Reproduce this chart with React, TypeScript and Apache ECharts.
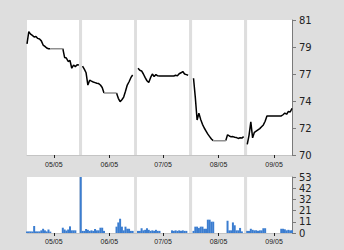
import React, { useEffect, useRef } from 'react';
import * as echarts from 'echarts';

// first trading day shown; each entry below is one calendar day after it
const startDate = '2015-04-20';
const endDate = '2015-09-15';

const priceValues: (number | null)[] = [
  // 04/20 - 05/19
  79.05, 80.05, 79.85, 79.75, 79.62, 79.66, 79.5, 79.45, 79.3, 78.96,
  78.85, 78.72, 78.66, 78.66, 78.66, 78.66, 78.66, 78.66, 78.66, 78.66,
  78.66, 77.95, 77.9, 77.62, 77.7, 77.07, 77.33, 77.2, 77.35, 77.33,
  null,
  // 05/21 - 06/18
  77.25, 77.0, 76.7, 75.7, 76.1, 76.02, 75.95, 75.9, 75.85, 75.82,
  75.7, 75.5, 75.05, 75.05, 75.05, 75.05, 75.05, 75.05, 75.05, 75.05,
  74.62, 74.35, 74.5, 74.72, 75.2, 75.7, 75.97, 76.3, 76.52,
  null, null,
  // 06/21 - 07/19
  77.07, 76.9, 76.85, 76.6, 76.3, 76.05, 75.9, 76.3, 76.6, 76.4,
  76.55, 76.45, 76.44, 76.44, 76.44, 76.44, 76.44, 76.44, 76.44, 76.44,
  76.44, 76.5, 76.45, 76.62, 76.7, 76.8, 76.6, 76.55, 76.5,
  null, null,
  // 07/22 - 08/19
  76.25, 74.7, 72.85, 73.4, 72.9, 72.5, 72.2, 71.95, 71.7, 71.5,
  71.3, 71.17, 71.17, 71.17, 71.17, 71.17, 71.17, 71.17, 71.17, 71.65,
  71.55, 71.48, 71.5, 71.45, 71.42, 71.35, 71.4, 71.38, 71.5,
  null,
  // 08/21 - 09/15
  70.87, 71.6, 72.7, 71.4, 71.85, 71.95, 72.05, 72.15, 72.3, 72.45,
  72.75, 73.18, 73.18, 73.18, 73.18, 73.18, 73.18, 73.18, 73.18, 73.18,
  73.28, 73.42, 73.32, 73.55, 73.5, 73.8,
];

const volumeValues: (number | null)[] = [
  1.5, 1.5, 1.5, 1.5, 6.6, 1.5, 1.5, 1.5, 2.5, 4,
  2.5, 1.5, 3.3, 1.3, null, null, null, null, null, null,
  5, 3.3, 2.3, 3.3, 6.3, 2.5, 2.5, 2.5, null, null,
  53,
  2, 2, 3.8, 3, 2, 2.5, 2, 3.8, 2.5, 2.5,
  5, 5, 2, null, null, null, null, null, null, 6,
  10, 13.5, 6, 2.5, 6, 4, 4, 2, 2,
  null, null,
  2, 2, 4.5, 2.5, 3, 4.5, 3, 2, 2.5, 2,
  3, 2, 2, null, null, null, null, null, null, 2.5,
  2, 2.5, 2, 2.5, 2, 2.5, 2, 2, null,
  null, null,
  2, 6, 6, 4.7, 6, 6, 4, 4, 12.6, 12.6,
  10.7, 10.7, null, null, null, null, null, null, null, 11.6,
  2.5, 2.5, 10, 7.3, 2.5, 2.5, 4.8, 1.5, null,
  null,
  2, 2, 4, 3, 2.5, 2.5, 2, 2.5, 2.5, 4.5,
  4.5, null, null, null, null, null, null, null, null, 4,
  4, 3.5, 2.5, 3, 2.5, 2.5,
];

// periods with no trades (price line drawn grey), as day offsets
const flatRanges: [number, number][] = [[13, 20], [43, 50], [104, 111]];

// breaks between the monthly panels
const gapRanges: [string, string][] = [
  ['2015-05-19 01:00', '2015-05-20 18:00'],
  ['2015-06-18 19:00', '2015-06-20 10:00'],
  ['2015-07-19 12:00', '2015-07-21 05:00'],
  ['2015-08-19 05:00', '2015-08-20 22:00'],
];

const xTickDates = ['2015-05-05', '2015-06-05', '2015-07-05', '2015-08-05', '2015-09-05'];
const priceTicks = [70, 72.2, 74.4, 76.6, 78.8, 81];
const volumeTicks = [0, 10.6, 21.2, 31.8, 42.4, 53];

function ts(s: string): number {
  const [d, t] = s.split(' ');
  const [y, m, dd] = d.split('-').map(Number);
  const [hh, mm] = (t || '0:0').split(':').map(Number);
  return new Date(y, m - 1, dd, hh, mm).getTime();
}
function dayTs(i: number): number {
  const [y, m, d] = startDate.split('-').map(Number);
  return new Date(y, m - 1, d + i).getTime();
}
function fmt(v: number): string {
  const d = new Date(v);
  const p = (n: number) => (n < 10 ? '0' : '') + n;
  return p(d.getMonth() + 1) + '/' + p(d.getDate());
}

const BG = '#dedede';

export default function App() {
  const ref = useRef<HTMLDivElement>(null);
  useEffect(() => {
    document.body.style.margin = '0';
    if (!ref.current) return;
    const chart = echarts.init(ref.current, undefined, { renderer: 'svg' });
    const insideFlat = (i: number) => flatRanges.some(([a, b]) => i > a && i < b);
    const onFlat = (i: number) => flatRanges.some(([a, b]) => i >= a && i <= b);
    const priceData = priceValues.map((v, i) => [dayTs(i), v == null || insideFlat(i) ? '-' : v]);
    const flatData = priceValues.map((v, i) => [dayTs(i), onFlat(i) && v != null ? v : '-']);
    const volData = volumeValues
      .map((v, i) => [dayTs(i), v])
      .filter((p) => p[1] != null);
    const xTicks = xTickDates.map(ts);
    const gapArea = {
      silent: true,
      itemStyle: { color: BG },
      data: gapRanges.map(([a, b]) => [{ xAxis: ts(a) }, { xAxis: ts(b) }]),
    };
    const xAxisFor = (i: number) => ({
      type: 'value',
      gridIndex: i,
      min: ts(startDate),
      max: ts(endDate),
      axisLine: { show: true, lineStyle: { color: '#c4c4c4', width: 1 } },
      axisTick: { show: true, customValues: xTicks, length: 3, lineStyle: { color: '#222' } },
      axisLabel: {
        customValues: xTicks,
        formatter: (v: number) => fmt(v),
        fontSize: 7,
        fontFamily: 'Liberation Sans',
        color: '#222',
        margin: i === 0 ? 6 : 5,
      },
      splitLine: { show: false },
    });
    const yAxisFor = (i: number, min: number, max: number, ticks: number[]) => ({
      type: 'value',
      gridIndex: i,
      position: 'right',
      min,
      max,
      axisLine: { show: true, lineStyle: { color: '#7a7a7a' } },
      axisTick: { show: true, length: 4, customValues: ticks, lineStyle: { color: '#7a7a7a' } },
      axisLabel: {
        customValues: ticks,
        formatter: (v: number) => String(Math.round(v)),
        fontSize: 10,
        fontFamily: 'DejaVu Sans',
        color: '#222',
        margin: 7,
      },
      splitLine: { show: false },
    });
    chart.setOption({
      animation: false,
      backgroundColor: BG,
      grid: [
        { left: 27, top: 20, width: 265, height: 135, show: true, backgroundColor: '#fff', borderWidth: 0 },
        { left: 27, top: 177, width: 265, height: 56, show: true, backgroundColor: '#fff', borderWidth: 0 },
      ],
      xAxis: [xAxisFor(0), xAxisFor(1)],
      yAxis: [yAxisFor(0, 70, 81, priceTicks), yAxisFor(1, 0, 53, volumeTicks)],
      series: [
        {
          type: 'line',
          xAxisIndex: 0,
          yAxisIndex: 0,
          data: priceData,
          symbol: 'none',
          connectNulls: false,
          lineStyle: { color: '#000', width: 1.5 },
          markArea: gapArea,
          z: 2,
        },
        {
          type: 'line',
          xAxisIndex: 0,
          yAxisIndex: 0,
          data: flatData,
          symbol: 'none',
          connectNulls: false,
          lineStyle: { color: '#909090', width: 1.5 },
          z: 3,
        },
        {
          type: 'bar',
          xAxisIndex: 1,
          yAxisIndex: 1,
          data: volData,
          barWidth: 2,
          itemStyle: { color: '#3b7dd0' },
          markArea: gapArea,
          z: 2,
        },
      ],
    });
    return () => chart.dispose();
  }, []);
  return <div ref={ref} style={{ width: 344, height: 250 }} />;
}
